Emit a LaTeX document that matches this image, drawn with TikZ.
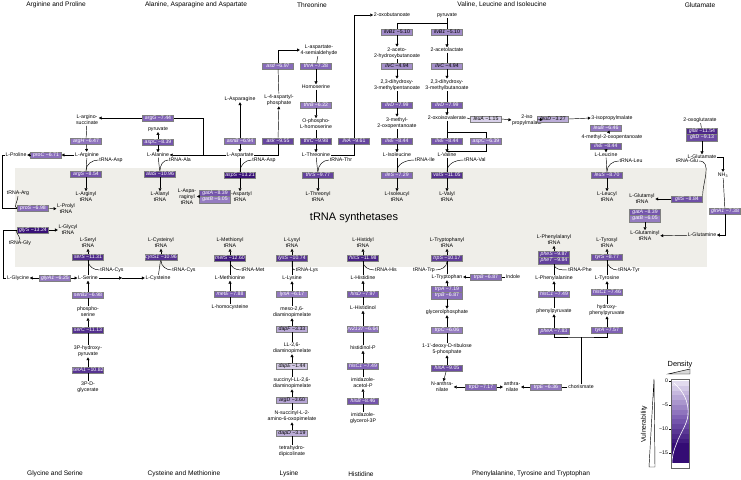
\documentclass[tikz,border=0pt]{standalone}
\usepackage{fontspec}
\setmainfont{Liberation Sans}
\usetikzlibrary{arrows.meta}

\definecolor{vlight}{RGB}{232,227,242}
\definecolor{vmid}{RGB}{128,98,181}
\definecolor{vdark}{RGB}{52,12,116}
\definecolor{bandgray}{RGB}{239,238,233}

\newcommand{\metsize}{\fontsize{5.2}{6.2}\selectfont}
% colour for a vulnerability value (given without its sign)
\newcommand{\setvcol}[1]{%
  \pgfmathsetmacro{\vval}{#1}%
  \pgfmathtruncatemacro{\vlo}{min(100,100*\vval/7.5)}%
  \pgfmathtruncatemacro{\vhi}{max(0,min(100,100*(\vval-7.5)/6))}%
  \ifdim \vval pt<7.5pt \colorlet{vcur}{vmid!\vlo!vlight}\else\colorlet{vcur}{vdark!\vhi!vmid}\fi}
% enzyme box coloured by its vulnerability value
\newcommand{\enzbox}[4]{%
  \setvcol{#4}%
  \ifdim #4pt>5.5pt \def\vtxt{white}\else\def\vtxt{black}\fi
  \node[enz, fill=vcur, text=\vtxt] (#1) at (#2) {\textit{#3} −#4};}

\tikzset{
  met/.style={font=\metsize, align=center, inner sep=0.6pt},
  enz/.style={draw=black!50, line width=0.35pt, minimum width=31pt, minimum height=6.6pt, inner sep=0pt, font=\metsize},
  ttl/.style={font=\fontsize{6.6}{7.5}\selectfont},
  arr/.style={-{Triangle[length=2.8pt,width=3pt]}},
}

\begin{document}
\begin{tikzpicture}[x=1pt, y=-1pt, line width=0.45pt]
\useasboundingbox (0,0) rectangle (741,479);
\fill[bandgray] (15,168) rectangle (707,267);
\node[font=\fontsize{11}{12}\selectfont] (band) at (354,218) {tRNA synthetases};

% titles
\node[ttl] (ttArg) at (56,5) {Arginine and Proline};
\node[ttl] (ttAla) at (196,5) {Alanine, Asparagine and Aspartate};
\node[ttl] (ttThr) at (312,5) {Threonine};
\node[ttl] (ttVal) at (502,5) {Valine, Leucine and Isoleucine};
\node[ttl] (ttGlu) at (700,5) {Glutamate};
\node[ttl] (ttGly) at (55,474) {Glycine and Serine};
\node[ttl] (ttCys) at (184,474) {Cysteine and Methionine};
\node[ttl] (ttLys) at (289,474) {Lysine};
\node[ttl] (ttHis) at (361,474) {Histidine};
\node[ttl] (ttPhe) at (531,474) {Phenylalanine, Tyrosine and Tryptophan};

% arginine and proline
\node[met] (argsucc) at (87,120) {L-argino-\\succinate};
\enzbox{argG}{158,118}{argG}{7.44}
\enzbox{argH}{86,141}{argH}{6.47}
\node[met] (Larg) at (87,155) {L-Arginine};
\enzbox{proC}{46,155}{proC}{6.71}
\node[met] (Lpro) at (16,155) {L-Proline};
\enzbox{argS}{86,174}{argS}{8.54}
\node[met] (Largtrna) at (86,197) {L-Arginyl\\tRNA};
\node[met] (tAsp1) at (111,160) {tRNA-Asp};
\enzbox{proS}{33,208}{proS}{6.98}
\node[met] (Lprotrna) at (66,209) {L-Prolyl\\tRNA};
\node[met] (tArg) at (18,193) {tRNA-Arg};
\enzbox{glyS}{33,230}{glyS}{13.24}
\node[met] (Lglytrna) at (68,230) {L-Glycyl\\tRNA};
\node[met] (tGly) at (20,243) {tRNA-Gly};

% alanine, asparagine and aspartate
\node[met] (pyr1) at (158,129) {pyruvate};
\enzbox{aspC1}{158,142}{aspC}{8.39}
\node[met] (Lala) at (158,155) {L-Alanine};
\enzbox{alaS}{160,174}{alaS}{10.96}
\node[met] (Lalatrna) at (160,197) {L-Alanyl\\tRNA};
\node[met] (tAla) at (180,160) {tRNA-Ala};
\node[met] (Lasp) at (240,155) {L-Aspartate};
\enzbox{asnB}{240,141}{asnB}{6.94}
\node[met] (Lasn) at (240,99) {L-Asparagine};
\enzbox{aspS}{240,175}{aspS}{13.21}
\node[met] (Lasptrna) at (240,197) {L-Aspartyl\\tRNA};
\node[met] (tAsp2) at (264,160) {tRNA-Asp};
\enzbox{gatA1}{215,193}{gatA}{8.39}
\enzbox{gatB1}{215,199.6}{gatB}{6.05}
\node[met] (Lasntrna) at (187,197) {L-Aspa-\\raginyl\\tRNA};
\enzbox{ask}{278,141}{ask}{9.55}
\node[met] (L4ap) at (279,100) {L-4-aspartyl-\\phosphate};
\enzbox{asd}{278,66}{asd}{6.97}
\node[met] (Lasa) at (319,50) {L-aspartate-\\4-semialdehyde};

% threonine
\enzbox{thrA}{316,66}{thrA}{7.28}
\node[met] (hser) at (316,87) {Homoserine};
\enzbox{thrB}{316,105}{thrB}{6.22}
\node[met] (ophs) at (316,124) {O-phospho-\\L-homoserine};
\enzbox{thrC}{316,141}{thrC}{9.98}
\node[met] (Lthr) at (316,155) {L-Threonine};
\enzbox{ilvA}{354,141}{ilvA}{9.61}
\enzbox{thrS}{318,175}{thrS}{9.77}
\node[met] (Lthrtrna) at (318,197) {L-Threonyl\\tRNA};
\node[met] (tThr) at (341,160) {tRNA-Thr};

% valine, leucine and isoleucine
\node[met] (oxob) at (392,15) {2-oxobutanoate};
\node[met] (pyr2) at (447,15) {pyruvate};
\coordinate (jPyr) at (447,23);
\enzbox{ilvBa}{397,32}{ilvB1}{5.10}
\enzbox{ilvBb}{447,32}{ilvB1}{5.10}
\node[met] (ahb) at (397,53) {2-aceto-\\2-hydroxybutanoate};
\node[met] (acl) at (447,50) {2-acetolactate};
\enzbox{ilvCa}{397,66}{ilvC}{4.94}
\enzbox{ilvCb}{447,66}{ilvC}{4.94}
\node[met] (dhmp) at (397,85) {2,3-dihydroxy-\\3-methylpentanoate};
\node[met] (dhmb) at (447,85) {2,3-dihydroxy-\\3-methylbutanoate};
\enzbox{ilvDa}{397,105}{ilvD}{7.99}
\enzbox{ilvDb}{447,105}{ilvD}{7.99}
\node[met] (mop) at (397,123) {3-methyl-\\2-oxopentanoate};
\node[met] (oiv) at (447,118) {2-oxoisovalerate};
\enzbox{ilvEa}{397,141}{ilvE}{8.44}
\enzbox{ilvEb}{447,141}{ilvE}{8.44}
\enzbox{aspC2}{486,141}{aspC}{6.39}
\coordinate (vtop) at (447,132);
\coordinate (vbot) at (447,151);
\node[met] (Lile) at (397,155) {L-Isoleucine};
\node[met] (Lval) at (447,155) {L-Valine};
\node[met] (tIle) at (425,160) {tRNA-Ile};
\node[met] (tVal) at (475,160) {tRNA-Val};
\enzbox{ileS}{397,175}{ileS}{7.29}
\node[met] (Liletrna) at (397,197) {L-Isoleucyl\\tRNA};
\enzbox{valS}{447,175}{valS}{11.05}
\node[met] (Lvaltrna) at (447,197) {L-Valyl\\tRNA};
\enzbox{leuA}{486,119}{leuA}{1.15}
\node[met] (ipm2) at (527,120) {2-iso\\propylmalate};
\enzbox{leuD}{553,119}{leuD}{3.27}
\node[met] (ipm3) at (612,118) {3-isopropylmalate};
\enzbox{leuB}{606,128}{leuB}{6.46}
\node[met] (mop4) at (612,137) {4-methyl-2-oxopentanoate};
\enzbox{ilvEc}{606,146}{ilvE}{8.44}
\node[met] (Lleu) at (606,155) {L-Leucine};
\node[met] (tLeu) at (631,161) {tRNA-Leu};
\enzbox{leuS}{607,175}{leuS}{8.70}
\node[met] (Lleutrna) at (607,197) {L-Leucyl\\tRNA};

% glutamate
\node[met] (oxog) at (700,120) {2-oxoglutarate};
\enzbox{gltB}{702,131}{gltB}{11.54}
\enzbox{gltD}{702,137.6}{gltD}{9.13}
\node[met] (Lglu) at (702,157) {L-Glutamate};
\node[met] (nh3) at (723,175) {NH\textsubscript{3}};
\enzbox{glnA1}{725,211}{glnA1}{7.38}
\node[met] (Lgln) at (702,235) {L-Glutamine};
\node[met] (tGlu) at (687,161) {tRNA-Glu};
\enzbox{gltS}{687,199}{gltS}{8.84}
\node[met] (Lglutrna) at (642,199) {L-Glutamyl\\tRNA};
\enzbox{gatA2}{645,212}{gatA}{8.39}
\enzbox{gatB2}{645,218.6}{gatB}{6.05}
\node[met] (Lglntrna) at (645,236) {L-Glutaminyl\\tRNA};

% glycine and serine
\node[met] (Lgly) at (18,278) {L-Glycine};
\enzbox{glyA1}{55,278}{glyA1}{6.25}
\node[met] (Lser) at (88,278) {L-Serine};
\coordinate (jSC) at (122,278);
\node[met] (Lcys) at (158,278) {L-Cysteine};
\enzbox{serS}{88,257}{serS}{11.31}
\node[met] (Lsertrna) at (88,243) {L-Seryl\\tRNA};
\node[met] (tCys1) at (112,270) {tRNA-Cys};
\enzbox{cysS1}{161,257}{cysS1}{10.96}
\node[met] (Lcystrna) at (161,243) {L-Cysteinyl\\tRNA};
\node[met] (tCys2) at (184,270) {tRNA-Cys};
\enzbox{serB2}{88,295}{serB2}{6.98}
\node[met] (pser) at (88,312) {phospho-\\serine};
\enzbox{serC}{88,330}{serC}{11.13}
\node[met] (phpyr) at (88,351) {3P-hydroxy-\\pyruvate};
\enzbox{serA1}{88,370}{serA1}{10.82}
\node[met] (pgly) at (88,387) {3P-D-\\glycerate};

% cysteine and methionine
\enzbox{metS}{230,258}{metS}{12.60}
\node[met] (Lmettrna) at (230,243) {L-Methionyl\\tRNA};
\node[met] (tMet) at (253,270) {tRNA-Met};
\node[met] (Lmet) at (230,278) {L-Methionine};
\enzbox{metE}{230,294}{metE}{7.88}
\node[met] (Lhcy) at (230,307) {L-homocysteine};

% lysine
\enzbox{lysS}{292,258}{lysS}{10.74}
\node[met] (Llystrna) at (292,243) {L-Lysyl\\tRNA};
\node[met] (tLys) at (307,270) {tRNA-Lys};
\node[met] (Llys) at (292,278) {L-Lysine};
\enzbox{lysA}{292,294}{lysA}{6.17}
\node[met] (mdap) at (292,312) {meso-2,6-\\diaminopimelate};
\enzbox{dapF}{292,329}{dapF}{3.33}
\node[met] (lldap) at (292,348) {LL-2,6-\\diaminopimelate};
\enzbox{dapE}{292,366}{dapE}{1.44}
\node[met] (sldap) at (292,383) {succinyl-LL-2,6-\\diaminopimelate};
\enzbox{argD}{292,400}{argD}{3.60}
\node[met] (nsaop) at (292,416) {N-succinyl-L-2-\\amino-6-oxopimelate};
\enzbox{dapD}{292,433}{dapD}{3.19}
\node[met] (thdp) at (292,451) {tetrahydro-\\dipicolinate};

% histidine
\enzbox{hisS}{363,258}{hisS}{11.98}
\node[met] (Lhistrna) at (363,243) {L-Histidyl\\tRNA};
\node[met] (tHis) at (386,270) {tRNA-His};
\node[met] (Lhis) at (363,278) {L-Histidine};
\enzbox{hisD}{363,294}{hisD}{7.97}
\node[met] (Lhol) at (363,308) {L-Histidinol};
\enzbox{rv2137}{363,329}{rv2137}{6.64}
\node[met] (holp) at (363,348) {histidinol-P};
\enzbox{hisCb}{363,366}{hisC1}{7.49}
\node[met] (iap) at (363,383) {imidazole-\\acetol-P};
\enzbox{hisB}{363,401}{hisB}{8.46}
\node[met] (igp) at (363,418) {imidazole-\\glycerol-3P};

% tryptophan
\enzbox{trpS}{447,258}{trpS}{10.17}
\node[met] (Ltrptrna) at (447,243) {L-Tryptophanyl\\tRNA};
\node[met] (tTrp) at (424,270) {tRNA-Trp};
\node[met] (Ltrp) at (447,277) {L-Tryptophan};
\enzbox{trpBa}{486,277}{trpB}{6.87}
\node[met] (indole) at (513,277) {Indole};
\enzbox{trpA}{447,289}{trpA}{7.19}
\enzbox{trpBb}{447,295.6}{trpB}{6.87}
\node[met] (g3p) at (447,312) {glycerolphosphate};
\enzbox{trpC}{447,330}{trpC}{6.06}
\node[met] (cdrp) at (447,349) {1-1'-deoxy-D-ribulose\\5-phosphate};
\enzbox{hisA}{447,368}{hisA}{9.05}
\node[met] (nant) at (442,387) {N-anthra-\\nilate};
\enzbox{trpD}{481,387}{trpD}{7.17}
\node[met] (ant) at (512,387) {anthra-\\nilate};
\enzbox{trpE}{546,387}{trpE}{6.36}
\node[met] (chor) at (581,387) {chorismate};
\coordinate (jCh) at (581,337);

% phenylalanine and tyrosine
\enzbox{pheS}{554,254}{pheS}{9.87}
\enzbox{pheT}{554,260.6}{pheT}{9.84}
\node[met] (Lphetrna) at (554,240) {L-Phenylalanyl\\tRNA};
\node[met] (tPhe) at (580,270) {tRNA-Phe};
\node[met] (Lphe) at (554,278) {L-Phenylalanine};
\enzbox{hisCc}{554,294}{hisC1}{7.49}
\node[met] (ppyr) at (554,311) {phenylpyruvate};
\enzbox{pheA}{554,331}{pheA}{7.83}
\enzbox{tyrS}{607,257}{tyrS}{8.77}
\node[met] (Ltyrtrna) at (607,243) {L-Tyrosyl\\tRNA};
\node[met] (tTyr) at (629,270) {tRNA-Tyr};
\node[met] (Ltyr) at (607,278) {L-Tyrosine};
\enzbox{hisCd}{607,292}{hisC1}{7.46}
\node[met] (hppyr) at (607,310) {hydroxy-\\phenylpyruvate};
\enzbox{tyrA}{607,330}{tyrA}{7.57}

% connectors: arginine, proline, alanine, aspartate
\draw[arr] (argG.west) -- (argG.west -| argsucc.east);
\coordinate (jAsp) at (203,155);
\draw (Lasp.west) -- (jAsp) |- (argG.east);
\draw[arr] (jAsp) -- (Lala.east);
\draw (argsucc) -- (argH);
\draw[arr] (argH) -- (Larg);
\draw[arr] (Larg) -- (proC);
\draw[arr] (proC) -- (Lpro);
\draw (Lpro.west) -- ++(-3,0) |- (proS.west);
\draw (Lgly.west) -- ++(-3,0) |- (glyS.west);
\draw (Larg) -- (argS);
\draw[arr] (argS) -- (Largtrna);
\draw (tAsp1.west) to[out=180,in=90] (argS.north);
\draw[arr] (proS) -- (Lprotrna);
\draw (tArg.south) to[out=-90,in=180] (proS.west);
\draw[arr] (glyS) -- (Lglytrna);
\draw (tGly.north) to[out=90,in=180] (glyS.west);
\draw[arr] (aspC1) -- (pyr1);
\draw[arr] (aspC1) -- (Lala);
\draw (Lala) -- (alaS);
\draw[arr] (alaS) -- (Lalatrna);
\draw (tAla.west) to[out=180,in=90] (alaS.north);
\draw (Lasp) -- (aspS);
\draw[arr] (aspS) -- (Lasptrna);
\draw (tAsp2.west) to[out=180,in=90] (aspS.north);
\draw[arr] (gatA1.south west) -- (gatA1.south west -| Lasntrna.east);
\draw[arr] (asnB) -- (Lasn);
\draw[arr] (asnB) -- (Lasp);
\draw (Lasp.east) -| (ask.south);
\draw[arr] (ask) -- (L4ap);
\draw (L4ap) -- (asd);
\draw[arr] (asd.north) |- (Lasa.west);

% threonine
\draw (Lasa) -- (thrA);
\draw[arr] (thrA) -- (hser);
\draw (hser) -- (thrB);
\draw[arr] (thrB) -- (ophs);
\draw (ophs) -- (thrC);
\draw[arr] (thrC) -- (Lthr);
\draw (Lthr.east) -| (ilvA.south);
\draw[arr] (ilvA.north) |- (oxob.west);
\draw (Lthr) -- (thrS);
\draw[arr] (thrS) -- (Lthrtrna);
\draw (tThr.west) to[out=180,in=90] (thrS.north);

% valine, leucine, isoleucine
\draw (pyr2) -- (ilvBb);
\draw (jPyr) -| (ilvBa.north);
\draw[arr] (ilvBa) -- (ahb);
\draw[arr] (ilvBb) -- (acl);
\draw (ahb) -- (ilvCa);
\draw (acl) -- (ilvCb);
\draw[arr] (ilvCa) -- (dhmp);
\draw[arr] (ilvCb) -- (dhmb);
\draw (dhmp) -- (ilvDa);
\draw (dhmb) -- (ilvDb);
\draw[arr] (ilvDa) -- (mop);
\draw[arr] (ilvDb) -- (oiv);
\draw (mop) -- (ilvEa);
\draw (oiv) -- (ilvEb);
\draw[arr] (ilvEa) -- (Lile);
\draw[arr] (ilvEb) -- (Lval);
\draw (vtop) -| (aspC2.north);
\draw (aspC2.south) |- (vbot);
\draw (Lile) -- (ileS);
\draw[arr] (ileS) -- (Liletrna);
\draw (tIle.west) to[out=180,in=90] (ileS.north);
\draw (Lval) -- (valS);
\draw[arr] (valS) -- (Lvaltrna);
\draw (tVal.west) to[out=180,in=90] (valS.north);
\draw (oiv.east) -- (leuA.west);
\draw[arr] (leuA.east) -- (ipm2.west);
\draw[arr] (leuD.west) -- (ipm2.east);
\draw[arr] (leuD.east) -- (ipm3.west);
\draw[arr] (leuB) -- (mop4);
\draw[arr] (ilvEc) -- (Lleu);
\draw (Lleu) -- (leuS);
\draw[arr] (leuS) -- (Lleutrna);
\draw (tLeu.west) to[out=180,in=90] (leuS.north);

% glutamate
\draw (oxog) -- (gltB);
\draw[arr] (gltD) -- (Lglu);
\draw[arr] (Lglu.east) -| (nh3.north);
\draw (nh3) -- (glnA1);
\draw[arr] (glnA1.south) |- (Lgln.east);
\draw (tGlu.east) to[out=0,in=90] (gltS.north east);
\draw[arr] (gltS) -- (Lglutrna);
\draw[arr] (gatB2) -- (Lglntrna);
\draw[arr] (Lgln) -- (Lglntrna);

% glycine, serine, cysteine, methionine
\draw[arr] (glyA1) -- (Lgly);
\draw[arr] (glyA1) -- (Lser);
\draw[arr] (Lser) -- (jSC);
\draw[arr] (jSC) -- (Lcys);
\draw (Lser) -- (serS);
\draw[arr] (serS) -- (Lsertrna);
\draw (tCys1.west) to[out=180,in=-90] (serS.south);
\draw (Lcys) -- (cysS1);
\draw[arr] (cysS1) -- (Lcystrna);
\draw (tCys2.west) to[out=180,in=-90] (cysS1.south);
\draw[arr] (serB2) -- (Lser);
\draw (pser) -- (serB2);
\draw[arr] (serC) -- (pser);
\draw (phpyr) -- (serC);
\draw[arr] (serA1) -- (phpyr);
\draw (pgly) -- (serA1);
\draw (Lmet) -- (metS);
\draw[arr] (metS) -- (Lmettrna);
\draw (tMet.west) to[out=180,in=-90] (metS.south);
\draw[arr] (metE) -- (Lmet);
\draw (Lhcy) -- (metE);

% lysine
\draw (Llys) -- (lysS);
\draw[arr] (lysS) -- (Llystrna);
\draw (tLys.west) to[out=180,in=-90] (lysS.south);
\draw[arr] (lysA) -- (Llys);
\draw (mdap) -- (lysA);
\draw[arr] (dapF) -- (mdap);
\draw (lldap) -- (dapF);
\draw[arr] (dapE) -- (lldap);
\draw (sldap) -- (dapE);
\draw[arr] (argD) -- (sldap);
\draw (nsaop) -- (argD);
\draw[arr] (dapD) -- (nsaop);
\draw (thdp) -- (dapD);

% histidine
\draw (Lhis) -- (hisS);
\draw[arr] (hisS) -- (Lhistrna);
\draw (tHis.west) to[out=180,in=-90] (hisS.south);
\draw[arr] (hisD) -- (Lhis);
\draw (Lhol) -- (hisD);
\draw[arr] (rv2137) -- (Lhol);
\draw (holp) -- (rv2137);
\draw[arr] (hisCb) -- (holp);
\draw (iap) -- (hisCb);
\draw[arr] (hisB) -- (iap);
\draw (igp) -- (hisB);

% tryptophan
\draw (Ltrp) -- (trpS);
\draw[arr] (trpS) -- (Ltrptrna);
\draw (tTrp.east) to[out=0,in=-90] (trpS.south);
\draw[arr] (trpBa) -- (Ltrp);
\draw (indole) -- (trpBa);
\draw[arr] (trpA) -- (Ltrp);
\draw[arr] (trpBb) -- (g3p);
\draw[arr] (trpC) -- (g3p);
\draw (cdrp) -- (trpC);
\draw[arr] (hisA) -- (cdrp);
\draw[arr] (hisA) -- (nant);
\draw[arr] (trpD) -- (nant);
\draw[arr] (trpD) -- (ant);
\draw[arr] (trpE) -- (ant);
\draw (chor) -- (trpE);
\draw (chor) -- (jCh);
\draw (pheA.south) |- (jCh) -| (tyrA.south);

% phenylalanine and tyrosine
\draw (Lphe) -- (pheT);
\draw[arr] (pheS) -- (Lphetrna);
\draw (tPhe.west) to[out=180,in=-90] (pheT.south);
\draw[arr] (hisCc) -- (Lphe);
\draw (ppyr) -- (hisCc);
\draw[arr] (pheA) -- (ppyr);
\draw (Ltyr) -- (tyrS);
\draw[arr] (tyrS) -- (Ltyrtrna);
\draw (tTyr.west) to[out=180,in=-90] (tyrS.south);
\draw[arr] (hisCd) -- (Ltyr);
\draw (hppyr) -- (hisCd);
\draw[arr] (tyrA) -- (hppyr);

% legend
\node[font=\fontsize{7.4}{8}\selectfont] (dens) at (680,365) {Density};
\draw[fill=black!15] (668,374) -- (690,374) -- (690,369) -- cycle;
\foreach \i in {0,...,16} {
  \setvcol{\i+0.5}
  \fill[vcur] (671,381+4.8*\i) rectangle (689,381+4.8*\i+4.8);
}
\draw[white, line width=0.6pt] (674,383) .. controls (684,392) and (689,402) .. (688,415)
  .. controls (687,425) and (680,433) .. (676,445) .. controls (673,452) and (672,458) .. (672,463);
\node[draw=black!60, minimum width=18pt, minimum height=89pt, inner sep=0pt] (bar) at (680,423.5) {};
\foreach \v/\yy in {0/381,−5/405,−10/429,−15/453} {
  \draw (671,\yy) -- (669,\yy);
  \node[font=\fontsize{5.2}{6}\selectfont, anchor=east, inner sep=0.8pt] at (669,\yy) {\v};
}
\node[rotate=90, font=\fontsize{6.8}{7.5}\selectfont] (vuln) at (644,424) {Vulnerability};
\draw[fill=white] (654,379) -- (655,467) -- (649,467) -- cycle;
\end{tikzpicture}
\end{document}
